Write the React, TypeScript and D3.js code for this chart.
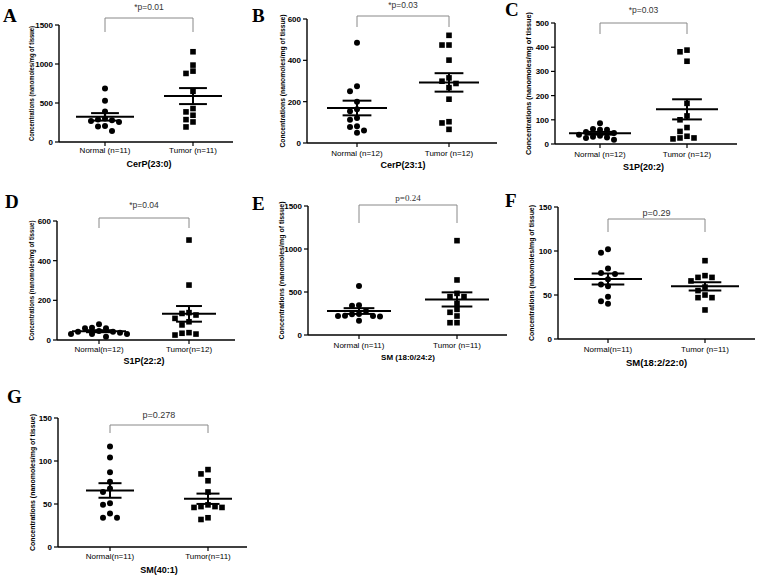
import React from 'react';
import * as d3 from 'd3';

const panelLetters = ['A', 'B', 'C', 'D', 'E', 'F', 'G'];
const panelTitles = ['CerP(23:0)', 'CerP(23:1)', 'S1P(20:2)', 'S1P(22:2)', 'SM (18:0/24:2)', 'SM(18:2/22:0)', 'SM(40:1)'];
const normalLabels = ['Normal (n=11)', 'Normal (n=12)', 'Normal (n=12)', 'Normal(n=12)', 'Normal (n=11)', 'Normal(n=11)', 'Normal(n=11)'];
const tumorLabels = ['Tumor (n=11)', 'Tumor (n=12)', 'Tumor (n=12)', 'Tumor(n=12)', 'Tumor (n=11)', 'Tumor (n=11)', 'Tumor(n=11)'];
const pLabels = ['*p=0.01', '*p=0.03', '*p=0.03', '*p=0.04', 'p=0.24', 'p=0.29', 'p=0.278'];
const yMax = [1500, 600, 500, 600, 1500, 150, 150];
const yTickStep = [500, 200, 100, 200, 500, 50, 50];
const yAxisLabel = 'Concentrations (nanomoles/mg of tissue)';

const normalA = [686, 530, 390, 300, 290, 280, 270, 255, 205, 200, 140];
const tumorA = [1157, 986, 909, 879, 650, 429, 386, 343, 287, 257, 193];
const normalB = [485, 275, 251, 200, 163, 154, 121, 113, 81, 78, 61, 50];
const tumorB = [521, 474, 474, 401, 315, 299, 288, 268, 212, 103, 97, 66];
const normalC = [86, 62, 59, 59, 50, 45, 38, 34, 30, 27, 25, 18];
const tumorC = [388, 381, 342, 168, 116, 100, 68, 52, 32, 25, 25, 21];
const normalD = [79, 62, 59, 59, 45, 42, 42, 37, 30, 30, 30, 17];
const tumorD = [504, 277, 138, 134, 126, 109, 92, 76, 37, 34, 30, 25];
const normalE = [570, 345, 340, 280, 245, 240, 225, 220, 220, 215, 165];
const tumorE = [1097, 640, 484, 446, 446, 368, 298, 264, 221, 143, 143];
const normalF = [102, 98, 80, 75, 74, 68, 62, 60, 48, 43, 40];
const tumorF = [89, 72, 70, 70, 66, 59, 55, 50, 47, 47, 33];
const normalG = [117, 104, 87, 76, 68, 64, 51, 49, 39, 34, 34];
const tumorG = [90, 85, 77, 64, 49, 47, 47, 46, 46, 34, 32];

const normalData = [normalA, normalB, normalC, normalD, normalE, normalF, normalG];
const tumorData = [tumorA, tumorB, tumorC, tumorD, tumorE, tumorF, tumorG];

// layout per panel
const layouts = [
  { ax: 59, xEnd: 233, yTop: 25, yBot: 142, c0: 105, c1: 193, lx: 3, ly: 22, pY: 10, brTop: 18, brDrop: 32, catY: 153, titleY: 167, labX: 32, labLen: 115, mh: 29, pSerif: false, pSize: 8.5, tSize: 9 },
  { ax: 307, xEnd: 497, yTop: 19, yBot: 143, c0: 357, c1: 449, lx: 252, ly: 22, pY: 8, brTop: 16, brDrop: 27, catY: 156, titleY: 168, labX: 283, labLen: 133, mh: 30, pSerif: false, pSize: 8.5, tSize: 9 },
  { ax: 555, xEnd: 737, yTop: 23, yBot: 144, c0: 600, c1: 687, lx: 505, ly: 16, pY: 13, brTop: 23, brDrop: 34, catY: 157, titleY: 170, labX: 529, labLen: 143, mh: 31, pSerif: false, pSize: 8.5, tSize: 9 },
  { ax: 57, xEnd: 235, yTop: 221, yBot: 340, c0: 99, c1: 189, lx: 5, ly: 208, pY: 208, brTop: 218, brDrop: 228, catY: 352, titleY: 364, labX: 32, labLen: 120, mh: 27, pSerif: false, pSize: 8.5, tSize: 9 },
  { ax: 308, xEnd: 507, yTop: 206, yBot: 335, c0: 359, c1: 457, lx: 252, ly: 210, pY: 201, brTop: 205, brDrop: 223, catY: 348, titleY: 360, labX: 282, labLen: 138, mh: 32, pSerif: true, pSize: 9, tSize: 8 },
  { ax: 558, xEnd: 755, yTop: 207, yBot: 339, c0: 608, c1: 705, lx: 505, ly: 207, pY: 216, brTop: 219, brDrop: 232, catY: 352, titleY: 366, labX: 532, labLen: 136, mh: 34, pSerif: false, pSize: 9, tSize: 9.5 },
  { ax: 58, xEnd: 247, yTop: 418, yBot: 547, c0: 110, c1: 208, lx: 7, ly: 403, pY: 418, brTop: 425, brDrop: 433, catY: 559, titleY: 573, labX: 33, labLen: 137, mh: 24, pSerif: false, pSize: 9, tSize: 9 },
];

const SANS = 'Liberation Sans, Arial, sans-serif';
const SERIF = 'Liberation Serif, Times New Roman, serif';

function beeswarm(values: number[], y: d3.ScaleLinear<number, number>, size: number, step: number) {
  const order = values.map((v, i) => i).sort((a, b) => values[b] - values[a]);
  const placed: { x: number; y: number; i: number }[] = [];
  for (const i of order) {
    const py = y(values[i]);
    for (let k = 0; k < 20; k++) {
      const off = k === 0 ? 0 : (k % 2 === 1 ? -1 : 1) * Math.ceil(k / 2) * step;
      const ok = placed.every(p => Math.abs(p.y - py) >= size || Math.abs(p.x - off) >= size);
      if (ok) { placed.push({ x: off, y: py, i }); break; }
    }
  }
  return placed;
}

function Panel({ idx }: { idx: number }) {
  const L = layouts[idx];
  const y = d3.scaleLinear().domain([0, yMax[idx]]).range([L.yBot, L.yTop]);
  const ticks = d3.range(0, yMax[idx] + 1, yTickStep[idx]);
  const groups = [normalData[idx], tumorData[idx]];
  const centers = [L.c0, L.c1];
  const mid = (L.c0 + L.c1) / 2;
  return (
    <g>
      <text x={L.lx} y={L.ly} fontFamily={SERIF} fontWeight="bold" fontSize={19}>{panelLetters[idx]}</text>
      <line x1={L.ax} x2={L.ax} y1={L.yTop} y2={L.yBot} stroke="#000" strokeWidth={1.4} />
      <line x1={L.ax} x2={L.xEnd} y1={L.yBot} y2={L.yBot} stroke="#000" strokeWidth={1.4} />
      {ticks.map(t => (
        <g key={t}>
          <line x1={L.ax - 4} x2={L.ax} y1={y(t)} y2={y(t)} stroke="#000" strokeWidth={1.2} />
          <text x={L.ax - 6} y={y(t) + 3} textAnchor="end" fontFamily={SANS} fontWeight="bold" fontSize={8}>{t}</text>
        </g>
      ))}
      {centers.map((c, i) => (
        <g key={i}>
          <line x1={c} x2={c} y1={L.yBot} y2={L.yBot + 4} stroke="#000" strokeWidth={1.2} />
          <text x={c} y={L.catY} textAnchor="middle" fontFamily={SANS} fontSize={8}>{i === 0 ? normalLabels[idx] : tumorLabels[idx]}</text>
        </g>
      ))}
      <text x={mid} y={L.titleY} textAnchor="middle" fontFamily={SANS} fontWeight="bold" fontSize={L.tSize}>{panelTitles[idx]}</text>
      <text transform={`translate(${L.labX},${(L.yTop + L.yBot) / 2}) rotate(-90)`} textAnchor="middle" dy="0.35em"
        fontFamily={SANS} fontWeight="bold" fontSize={7} textLength={L.labLen} lengthAdjust="spacingAndGlyphs">{yAxisLabel}</text>
      <path d={`M${L.c0},${L.brDrop}V${L.brTop}H${L.c1}V${L.brDrop}`} fill="none" stroke="#888" strokeWidth={1} />
      <text x={mid} y={L.pY} textAnchor="middle" fontFamily={L.pSerif ? SERIF : SANS} fontSize={L.pSize} fill="#333">{pLabels[idx]}</text>
      {groups.map((vals, gi) => {
        const c = centers[gi];
        const pts = beeswarm(vals, y, 6, 7);
        const m = d3.mean(vals) as number;
        const sem = (d3.deviation(vals) as number) / Math.sqrt(vals.length);
        const sh = L.mh * 0.48;
        return (
          <g key={gi}>
            {pts.map((p, k) => gi === 0
              ? <circle key={k} cx={c + p.x} cy={p.y} r={3} fill="#000" />
              : <rect key={k} x={c + p.x - 2.8} y={p.y - 2.8} width={5.6} height={5.6} fill="#000" />)}
            <line x1={c - L.mh} x2={c + L.mh} y1={y(m)} y2={y(m)} stroke="#000" strokeWidth={2} />
            <line x1={c - sh} x2={c + sh} y1={y(m + sem)} y2={y(m + sem)} stroke="#000" strokeWidth={2} />
            <line x1={c - sh} x2={c + sh} y1={y(m - sem)} y2={y(m - sem)} stroke="#000" strokeWidth={2} />
            <line x1={c} x2={c} y1={y(m + sem)} y2={y(m - sem)} stroke="#000" strokeWidth={2} />
          </g>
        );
      })}
    </g>
  );
}

export default function App() {
  return (
    <svg width={757} height={575} style={{ position: 'absolute', left: 0, top: 0, background: '#fff' }}>
      <rect width={757} height={575} fill="#fff" />
      {layouts.map((_, i) => <Panel key={i} idx={i} />)}
    </svg>
  );
}
